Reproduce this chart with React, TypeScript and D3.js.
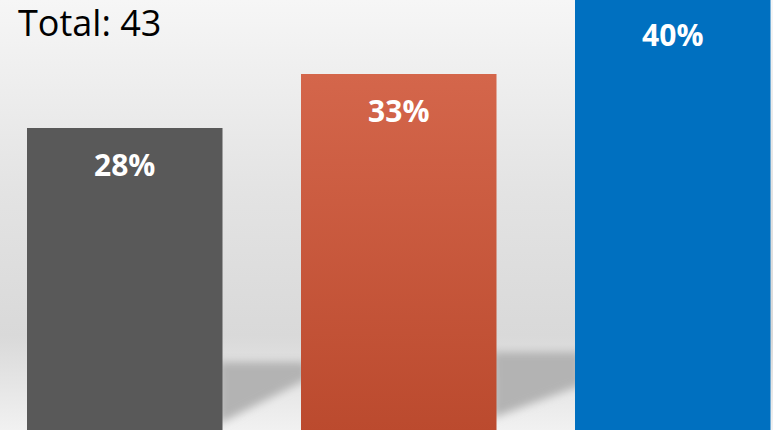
import React from "react";
import * as d3 from "d3";

const categories = ["Group A", "Group B", "Group C"];
const values = [28, 33, 40];
const valueLabels = ["28%", "33%", "40%"];
const totalLabel = "Total: 43";

const W = 773;
const H = 430;

export default function App() {
  const x = d3
    .scaleBand<string>()
    .domain(categories)
    .range([27, 770.5])
    .paddingInner(0.2865)
    .paddingOuter(0);
  const y = d3.scaleLinear().domain([0, 40]).range([430.4, -1.6]);
  const bw = x.bandwidth();
  const step = x.step();
  const gap = step - bw;

  const fills = ["#595959", "url(#gradOrange)", "#0070c0"];

  return (
    <svg
      width={W}
      height={H}
      style={{ position: "absolute", left: 0, top: 0, display: "block" }}
    >
      <defs>
        <linearGradient id="bg" x1="0" y1="0" x2="0" y2="1">
          <stop offset="0" stopColor="#f6f6f6" />
          <stop offset="0.45" stopColor="#e3e3e3" />
          <stop offset="0.78" stopColor="#d9d9d9" />
          <stop offset="1" stopColor="#f1f1f1" />
        </linearGradient>
        <linearGradient id="gradOrange" x1="0" y1="0" x2="0" y2="1">
          <stop offset="0" stopColor="#d4664b" />
          <stop offset="1" stopColor="#bb4a2e" />
        </linearGradient>
        <filter id="blur" x="-20%" y="-50%" width="140%" height="200%">
          <feGaussianBlur stdDeviation="4" />
        </filter>
      </defs>
      <rect x={0} y={0} width={W} height={H} fill="url(#bg)" />
      {categories.slice(1).map((c, i) => {
        const right = x(c)!;
        const left = right - gap;
        const top = i === 0 ? 362 : 352;
        const bl = i === 0 ? 422 : 416;
        const br = i === 0 ? 382 : 388;
        const pts = [
          [left - 4, top],
          [right + 6, top],
          [right + 6, br - 3],
          [left - 4, bl + 2],
        ];
        return (
          <polygon
            key={"sh" + c}
            points={pts.map((p) => p.join(",")).join(" ")}
            fill="#b3b3b3"
            filter="url(#blur)"
          />
        );
      })}
      {categories.map((c, i) => (
        <rect
          key={c}
          x={x(c)!}
          y={y(values[i])}
          width={bw}
          height={y(0) - y(values[i]) + 2}
          fill={fills[i]}
        />
      ))}
      {categories.map((c, i) => (
        <text
          key={"l" + c}
          x={x(c)! + bw / 2}
          y={y(values[i]) + 48}
          textAnchor="middle"
          fill="#ffffff"
          fontFamily="'Open Sans', sans-serif"
          fontWeight="bold"
          fontSize={30}
        >
          {valueLabels[i]}
        </text>
      ))}
      <text
        x={18}
        y={36}
        fill="#000000"
        fontFamily="'Open Sans', sans-serif"
        fontSize={36}
      >
        {totalLabel}
      </text>
    </svg>
  );
}
